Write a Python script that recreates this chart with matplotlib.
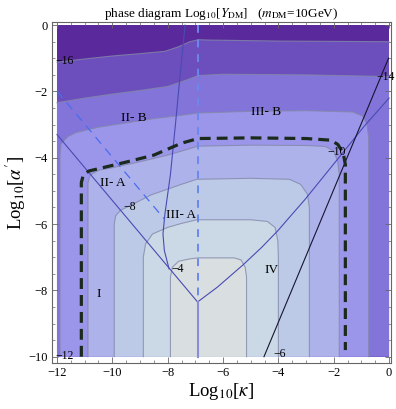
import matplotlib
matplotlib.use("Agg")
import matplotlib.pyplot as plt
import numpy as np
from matplotlib.ticker import MultipleLocator

plt.rcParams['font.family'] = ['Liberation Serif', 'DejaVu Serif']
plt.rcParams['mathtext.fontset'] = 'stix'

# ---------------- data ----------------
levels = [-16, -14, -12, -10, -8, -6, -4]
band_colors = ['#5a2a9c', '#6c4ebc', '#8274d8', '#9c96ea', '#aeb2ea',
               '#bccae8', '#cbd9e6', '#d9dfe0']

# contour boundaries (log kappa, log alpha')
c16_x = [-12.0, -11.0, -10.0, -9.0, -8.1, -7.6, -7.2, -6.9, -6.5, -4.0, 0.0]
c16_y = [-1.12, -1.02, -0.93, -0.86, -0.79, -0.65, -0.50, -0.44, -0.45, -0.48, -0.50]
c14_x = [-12.0, -11.0, -10.0, -9.0, -8.0, -7.3, -6.9, -6.0, -3.0, 0.0]
c14_y = [-2.34, -2.20, -2.08, -1.97, -1.85, -1.65, -1.52, -1.48, -1.50, -1.55]
c12_x = [-11.89, -11.89, -11.85, -11.6, -11.3, -10.5, -9.5, -8.5, -7.5, -6.9, -5.0, -3.0,
         -1.3, -0.95, -0.8, -0.74, -0.74]
c12_y = [-10.0, -3.9, -3.58, -3.36, -3.24, -3.08, -2.95, -2.82, -2.72, -2.65, -2.60, -2.58,
         -2.62, -2.75, -3.0, -3.4, -10.0]
c10_x = [-10.88, -10.88, -10.8, -10.5, -10.0, -9.0, -8.0, -7.3, -6.9, -5.0, -3.0, -2.3,
         -2.0, -1.86, -1.8, -1.8]
c10_y = [-10.0, -4.75, -4.52, -4.38, -4.30, -4.12, -3.92, -3.75, -3.65, -3.62, -3.63, -3.66,
         -3.8, -4.1, -4.5, -10.0]
c8_x = [-9.93, -9.93, -9.88, -9.7, -9.3, -8.6, -7.5, -6.95, -5.0, -3.6, -3.2, -2.95, -2.88, -2.88]
c8_y = [-10.0, -6.0, -5.75, -5.58, -5.42, -5.12, -4.8, -4.65, -4.62, -4.65, -4.8, -5.1, -5.5, -10.0]
c6_x = [-8.88, -8.88, -8.8, -8.55, -8.0, -7.5, -6.95, -5.0, -4.4, -4.12, -4.02, -4.0, -4.0]
c6_y = [-10.0, -7.0, -6.6, -6.3, -6.1, -5.98, -5.87, -5.87, -5.92, -6.1, -6.5, -7.0, -10.0]
c4_x = [-7.9, -7.9, -7.83, -7.6, -7.2, -6.9, -5.6, -5.35, -5.2, -5.15, -5.15]
c4_y = [-10.0, -7.6, -7.3, -7.12, -7.05, -7.02, -7.02, -7.08, -7.3, -7.6, -10.0]
contours_x = [c16_x, c14_x, c12_x, c10_x, c8_x, c6_x, c4_x]
contours_y = [c16_y, c14_y, c12_y, c10_y, c8_y, c6_y, c4_y]

# thick dashed boundary
bnd_x = [-11.12, -11.12, -11.05, -10.85, -10.5, -9.5, -8.5, -8.0, -7.5, -6.9, -5.0, -3.0,
         -2.1, -1.85, -1.66, -1.58, -1.58]
bnd_y = [-10.0, -4.75, -4.52, -4.40, -4.33, -4.13, -3.92, -3.74, -3.56, -3.42, -3.40, -3.42,
         -3.47, -3.6, -3.85, -4.2, -9.8]
# blue dashed lines
bd_diag_x = [-12.0, -8.1]
bd_diag_y = [-1.99, -5.87]
bd_vert_x = [-6.92, -6.92]
bd_vert_y = [0.0, -8.35]
# light solid continuation
lv_x = [-6.92, -6.92]
lv_y = [-8.35, -10.0]
# thin phase boundaries
pa_x = [-7.37, -7.55, -7.72, -7.9, -8.1, -8.17, -8.12, -7.95]
pa_y = [0.0, -1.5, -3.0, -4.5, -5.7, -6.3, -6.8, -7.35]
pb_x = [-12.0, -6.92]
pb_y = [-3.3, -8.35]
pc_x = [-6.92, -6.2, -5.29, -4.6, -4.02, -3.5, -3.05, -2.4, -1.78, -0.9, 0.0]
pc_y = [-8.35, -7.9, -7.24, -6.7, -6.2, -5.7, -5.27, -4.6, -3.96, -3.05, -2.2]
blk_x = [-4.52, -0.02]
blk_y = [-10.0, -1.0]

region_names = ['I', 'II- A', 'II- B', 'III- A', 'III- B', 'IV']
region_x = [-10.48, -10.0, -9.21, -7.52, -4.44, -4.26]
region_y = [-8.1, -4.77, -2.8, -5.73, -2.63, -7.39]

clabel_text = ['−16', '−14', '−12', '−10', '−8', '−6', '−4']
clabel_x = [-11.72, -0.12, -11.72, -1.9, -9.39, -3.96, -7.64]
clabel_y = [-1.08, -1.56, -9.97, -3.83, -5.47, -9.92, -7.37]

# ---------------- figure ----------------
fig = plt.figure(figsize=(3.96, 4.09), dpi=100)
ax = fig.add_axes([0.1306, 0.1125, 0.8568, 0.8325])
ax.set_xlim(-12.19, 0.07)
ax.set_ylim(-10.19, 0.08)

xmin, xmax, ymin, ymax = -12.0, 0.0, -10.0, 0.0
ax.fill([xmin, xmax, xmax, xmin], [ymax, ymax, ymin, ymin], color=band_colors[0], lw=0, zorder=1)
for i, (cx, cy) in enumerate(zip(contours_x, contours_y)):
    if i < 2:
        px = list(cx) + [xmax, xmin]
        py = list(cy) + [ymin, ymin]
    else:
        px = list(cx)
        py = list(cy)
    ax.fill(px, py, color=band_colors[i + 1], lw=0, zorder=1 + i * 0.01)
for cx, cy in zip(contours_x, contours_y):
    ax.plot(cx, cy, color='#8288a8', lw=0.8, alpha=0.8, zorder=2)

# phase boundaries
ax.plot(pa_x, pa_y, color='#4a4ab4', lw=0.8, zorder=3)
ax.plot(pb_x, pb_y, color='#4a4ab4', lw=0.8, zorder=3)
ax.plot(pc_x, pc_y, color='#4a4ab4', lw=0.8, zorder=3)
ax.plot(lv_x, lv_y, color='#8c8cd4', lw=1.5, zorder=3)
ax.plot(blk_x, blk_y, color='#151530', lw=0.8, zorder=3)
ax.plot(bd_diag_x, bd_diag_y, color='#4a6cf0', lw=0.9, dashes=(7, 5), zorder=3)
ax.plot(bd_vert_x, bd_vert_y, color='#6a88f0', lw=1.4, dashes=(4, 3.5), zorder=3)
ax.plot(bnd_x, bnd_y, color='#1a2a1c', lw=2.3, dashes=(3.4, 1.9), zorder=4,
        solid_capstyle='butt', dash_capstyle='butt')

for t, x, y in zip(region_names, region_x, region_y):
    ax.text(x, y, t, fontsize=9.5, ha='center', va='center', zorder=5)
for t, x, y in zip(clabel_text, clabel_x, clabel_y):
    ax.text(x, y, t, fontsize=8.5, ha='center', va='center', zorder=5, clip_on=False)

# ticks & frame
for s in ax.spines.values():
    s.set_color('#666666')
    s.set_linewidth(0.8)
ax.xaxis.set_major_locator(MultipleLocator(2))
ax.xaxis.set_minor_locator(MultipleLocator(0.5))
ax.yaxis.set_major_locator(MultipleLocator(2))
ax.yaxis.set_minor_locator(MultipleLocator(0.5))
ax.tick_params(which='both', direction='in', top=True, right=True, color='#666666',
               labelsize=9, pad=3)
ax.tick_params(which='major', length=4, width=0.6)
ax.tick_params(which='minor', length=2.2, width=0.5)

ax.set_xlabel('Log$_{10}$[$\\kappa$]', fontsize=13.5, labelpad=1)
ax.set_ylabel("Log$_{10}$[$\\alpha'$]", fontsize=13.5, labelpad=0)
ax.set_title('phase diagram Log$_{10}$[$Y_{\\rm DM}$]   ($m_{\\rm DM}$=10GeV)', fontsize=9.5, pad=3)

fig.savefig('out.png', dpi=100)
